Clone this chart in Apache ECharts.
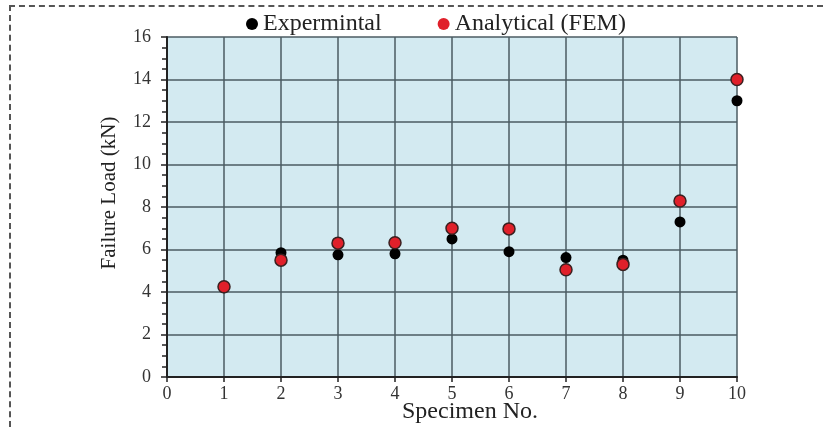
<!DOCTYPE html>
<html>
<head>
<meta charset="utf-8">
<script src="https://cdn.jsdelivr.net/npm/echarts@6/dist/echarts.min.js"></script>
<style>
html,body{margin:0;padding:0;background:#fff;}
#c{width:823px;height:430px;}
#b{position:absolute;left:9px;top:5px;width:812px;height:430px;border-top:2px dashed #555;border-left:2px dashed #555;pointer-events:none;}
</style>
</head>
<body>
<div id="c"></div>
<div id="b"></div>
<script>
var specimens = [1, 2, 3, 4, 5, 6, 7, 8, 9, 10];
var experimental = [4.2, 5.85, 5.75, 5.8, 6.5, 5.9, 5.62, 5.5, 7.3, 13.0];
var analytical = [4.25, 5.5, 6.3, 6.32, 7.0, 6.97, 5.05, 5.3, 8.28, 14.0];
var xTicks = [0, 1, 2, 3, 4, 5, 6, 7, 8, 9, 10];
var yTicks = [0, 2, 4, 6, 8, 10, 12, 14, 16];

var font = '"Liberation Serif", "DejaVu Serif", serif';
function pairs(xs, ys){ return xs.map(function(x,i){ return [x, ys[i]]; }); }

var chart = echarts.init(document.getElementById('c'));
chart.setOption({
  animation: false,
  backgroundColor: '#fff',
  legend: {
    left: 241, top: 7,
    itemGap: 56, itemWidth: 12, itemHeight: 12,
    textStyle: {fontFamily: font, fontSize: 24, color: '#222'},
    data: [
      {name: 'Expermintal', icon: 'circle', itemStyle: {color: '#000', borderWidth: 0}},
      {name: 'Analytical (FEM)', icon: 'circle', itemStyle: {color: '#e0202a', borderWidth: 0}}
    ]
  },
  grid: {left: 167, right: 86, top: 37, bottom: 53, show: true, backgroundColor: '#d3eaf1', borderWidth: 0,
    outerBoundsMode: 'none', containLabel: false},
  xAxis: {
    type: 'value', min: 0, max: 10, interval: 1,
    name: 'Specimen No.', nameLocation: 'middle', nameGap: 23, nameMoveOverlap: false,
    nameTextStyle: {fontFamily: font, fontSize: 24, color: '#222', padding: [0, 0, 0, 36]},
    axisLine: {show: true, lineStyle: {color: '#222', width: 2}},
    axisTick: {show: true, length: 5, lineStyle: {color: '#222', width: 1.5}},
    axisLabel: {fontFamily: font, fontSize: 18, color: '#333', margin: 8,
      formatter: function(v){ return xTicks.indexOf(v) >= 0 ? String(v) : ''; }},
    splitLine: {show: true, lineStyle: {color: '#4b5b62', width: 1.5}}
  },
  yAxis: {
    type: 'value', min: 0, max: 16, interval: 2,
    name: 'Failure Load (kN)', nameLocation: 'middle', nameGap: 47, nameMoveOverlap: false,
    nameTextStyle: {fontFamily: font, fontSize: 21, color: '#222', padding: [0, 0, 0, 28]},
    axisLine: {show: true, lineStyle: {color: '#222', width: 2}},
    axisTick: {show: true, length: 6, lineStyle: {color: '#222', width: 1.5}},
    minorTick: {show: true, splitNumber: 4, length: 5, lineStyle: {color: '#222', width: 1.5}},
    axisLabel: {fontFamily: font, fontSize: 18, color: '#333', margin: 16,
      formatter: function(v){ return yTicks.indexOf(v) >= 0 ? String(v) : ''; }},
    splitLine: {show: true, lineStyle: {color: '#4b5b62', width: 1.5}}
  },
  series: [
    {
      name: 'Expermintal', type: 'scatter', symbol: 'circle', symbolSize: 11,
      itemStyle: {color: '#000', opacity: 1},
      data: pairs(specimens, experimental), z: 3
    },
    {
      name: 'Analytical (FEM)', type: 'scatter', symbol: 'circle', symbolSize: 12,
      itemStyle: {color: '#e0202a', borderColor: '#3a2020', borderWidth: 1.5, opacity: 1},
      data: pairs(specimens, analytical), z: 4
    }
  ]
});
</script>
</body>
</html>
